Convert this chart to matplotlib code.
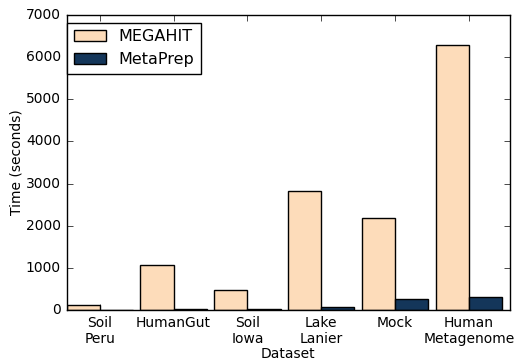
import matplotlib
matplotlib.use("Agg")
import matplotlib.pyplot as plt
import numpy as np

plt.style.use("classic")

categories = ["Soil\nPeru", "HumanGut", "Soil\nIowa", "Lake\nLanier", "Mock", "Human\nMetagenome"]
megahit = [120, 1075, 470, 2825, 2185, 6290]
metaprep = [6, 32, 24, 72, 268, 310]

fig = plt.figure(figsize=(5.14, 3.6), dpi=100)
ax = fig.add_axes([66.5/514, 50/360, 443/514, 295/360])

x = np.arange(len(categories))
w = 0.45
ax.bar(x - w, megahit, width=w, align="edge", color="#FDDCBA", edgecolor="black", linewidth=1.0, label="MEGAHIT")
ax.bar(x, metaprep, width=w, align="edge", color="#14365A", edgecolor="black", linewidth=1.0, label="MetaPrep")

ax.set_xlim(-w, len(categories) - 1 + w + 0.1)
ax.set_ylim(0, 7000)
ax.set_xticks(x)
ax.set_xticklabels(categories, fontsize=10)
ax.tick_params(axis="y", labelsize=10)
ax.set_xlabel("Dataset", fontsize=10, labelpad=1)
ax.set_ylabel("Time (seconds)", fontsize=10, labelpad=2)
leg = ax.legend(loc="upper left", fontsize=11.5, borderaxespad=0.0,
                bbox_to_anchor=(0.002, 0.973), handlelength=2.0, handleheight=0.65,
                labelspacing=0.5)
leg.get_frame().set_linewidth(1.0)

fig.savefig("out.png", dpi=100)
